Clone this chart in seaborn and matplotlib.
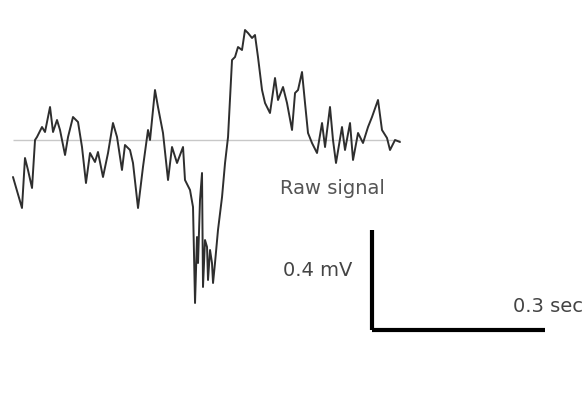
import numpy as np
import pandas as pd
import seaborn as sns
import matplotlib.pyplot as plt

# raw trace: time in ms, amplitude in mV
time_ms = [1.7, 17.3, 22.5, 27.7, 34.7, 39.9, 43.3, 52.0, 57.2, 65.9,
           71.1, 78.0, 83.2, 91.9, 97.1, 105.7, 114.4, 121.3, 128.2, 135.2,
           143.8, 149.0, 157.7, 166.4, 175.0, 182.0, 190.6, 195.8, 204.5, 209.7,
           218.4, 227.0, 235.7, 239.2, 247.8, 253.0, 261.7, 270.4, 277.3, 286.0,
           296.4, 299.8, 308.5, 313.7, 317.2, 320.6, 322.4, 325.8, 329.3, 331.0,
           334.5, 338.0, 339.7, 343.2, 346.6, 348.4, 351.8, 357.0, 364.0, 369.2,
           374.4, 381.3, 386.5, 391.7, 398.6, 403.8, 409.0, 416.0, 421.1, 426.3,
           433.3, 438.5, 447.1, 455.8, 461.0, 469.7, 476.6, 485.3, 490.5, 495.7,
           502.6, 507.8, 513.0, 519.9, 528.6, 537.3, 542.5, 551.1, 556.3, 561.5,
           571.9, 577.1, 585.8, 591.0, 599.7, 608.3, 617.0, 623.9, 634.3, 641.2,
           649.9, 655.1, 663.8, 672.4]
signal_mv = [-0.148, -0.272, -0.072, -0.120, -0.192, 0.000, 0.012, 0.052, 0.032, 0.132,
             0.032, 0.080, 0.040, -0.060, 0.012, 0.092, 0.072, -0.028, -0.172, -0.052,
             -0.088, -0.048, -0.148, -0.052, 0.068, 0.012, -0.120, -0.020, -0.040, -0.092,
             -0.272, -0.108, 0.040, 0.000, 0.200, 0.132, 0.028, -0.160, -0.028, -0.092,
             -0.028, -0.160, -0.200, -0.268, -0.652, -0.388, -0.492, -0.240, -0.132, -0.588,
             -0.400, -0.428, -0.560, -0.440, -0.492, -0.572, -0.492, -0.360, -0.228, -0.092,
             0.012, 0.320, 0.332, 0.372, 0.360, 0.440, 0.428, 0.408, 0.420, 0.332,
             0.200, 0.148, 0.108, 0.248, 0.160, 0.212, 0.148, 0.040, 0.188, 0.200,
             0.272, 0.148, 0.028, -0.012, -0.052, 0.068, -0.028, 0.132, 0.000, -0.092,
             0.052, -0.040, 0.068, -0.080, 0.028, -0.012, 0.052, 0.092, 0.160, 0.040,
             0.008, -0.040, 0.000, -0.008]

bar_mv = 0.4
bar_ms = 300

df = pd.DataFrame({'t': time_ms, 'v': signal_mv})

sns.set_style('white')
plt.rcParams['font.family'] = ['DejaVu Sans']

fig = plt.figure(figsize=(5.84, 3.99), dpi=100)
ax = fig.add_axes([0, 0, 1, 1])

# baseline
ax.hlines(0, df.t.min(), df.t.max(), color='#c8c8c8', lw=1)
sns.lineplot(data=df, x='t', y='v', ax=ax, color='#2e2e2e', lw=1.4)

# scale bars
bx, by = 624, -0.76
ax.plot([bx, bx], [by, by + bar_mv], color='black', lw=3, solid_capstyle='butt')
ax.plot([bx, bx + bar_ms], [by, by], color='black', lw=3, solid_capstyle='butt')

ax.text(556, -0.192, 'Raw signal', ha='center', va='center', fontsize=14, color='#555555')
ax.text(530, -0.52, '0.4 mV', ha='center', va='center', fontsize=14, color='#444444')
ax.text(868, -0.664, '0.3 sec', ha='left', va='center', fontsize=14, color='#444444')

ax.set_xlim(-20.8, 991.3)
ax.set_ylim(-1.036, 0.56)
ax.axis('off')

fig.savefig('out.png', dpi=100)
